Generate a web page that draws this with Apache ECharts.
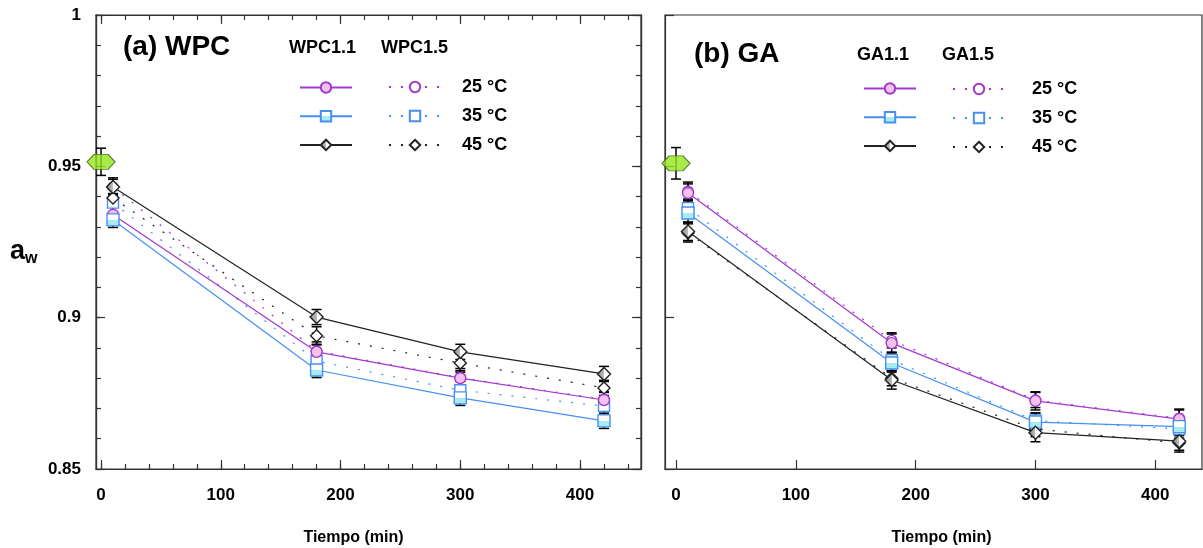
<!DOCTYPE html>
<html>
<head>
<meta charset="utf-8">
<title>aw - Tiempo</title>
<script src="https://cdn.jsdelivr.net/npm/echarts@6/dist/echarts.min.js"></script>
<style>
body{margin:0;background:#fff;}
#main{width:1203px;height:548px;}
</style>
</head>
<body>
<div id="main"></div>
<script>
// tiempos de muestreo (min)
var times = [10, 180, 300, 420];
var temps = ['25 °C', '35 °C', '45 °C'];

// (a) WPC  -  aw
var wpc11_25 = [0.9340, 0.8887, 0.8800, 0.8728];
var wpc11_35 = [0.9323, 0.8827, 0.8735, 0.8659];
var wpc11_45 = [0.9432, 0.9002, 0.8887, 0.8814];
var wpc15_25 = [0.9432, 0.8890, 0.8802, 0.8730];
var wpc15_35 = [0.9380, 0.8857, 0.8760, 0.8708];
var wpc15_45 = [0.9395, 0.8940, 0.8850, 0.8768];
var wpc11_err = [0.0025, 0.0025, 0.0025, 0.0025];
var wpc15_err = [0.0030, 0.0030, 0.0030, 0.0025];

// (b) GA
var ga11_25 = [0.9412, 0.8916, 0.8725, 0.8665];
var ga11_35 = [0.9346, 0.8850, 0.8655, 0.8640];
var ga11_45 = [0.9285, 0.8794, 0.8620, 0.8592];
var ga15_25 = [0.9418, 0.8925, 0.8728, 0.8668];
var ga15_35 = [0.9362, 0.8860, 0.8660, 0.8632];
var ga15_45 = [0.9280, 0.8800, 0.8632, 0.8586];
var ga11_err = [0.0030, 0.0030, 0.0030, 0.0030];
var ga15_err = [0.0030, 0.0025, 0.0025, 0.0030];

// muestra inicial (t = 0)
var wpc0 = 0.9515, wpc0_err = 0.0045;
var ga0 = 0.9510, ga0_err = 0.0052;

var xLabels = [0, 100, 200, 300, 400];
var xMinor = [0, 20, 40, 60, 80, 100, 120, 140, 160, 180, 200, 220, 240, 260, 280, 300, 320, 340, 360, 380, 400, 420, 440];
var yLabels = [0.85, 0.9, 0.95, 1];
var yMinor = [0.85, 0.86, 0.87, 0.88, 0.89, 0.9, 0.91, 0.92, 0.93, 0.94, 0.95, 0.96, 0.97, 0.98, 0.99, 1];

var FONT = '"Liberation Sans", Arial, sans-serif';
var PURPLE = '#a23ad0', BLUE = '#4790f2', BLACK = '#222';

var myChart = echarts.init(document.getElementById('main'));

function pts(vals) {
	return times.map(function (t, i) { return [t, vals[i]]; });
}
function errPts(vals, errs) {
	return times.map(function (t, i) { return [t, vals[i] - errs[i], vals[i] + errs[i]]; });
}
function errRender(params, api) {
	var lo = api.coord([api.value(0), api.value(1)]);
	var hi = api.coord([api.value(0), api.value(2)]);
	var w = 5;
	var st = { stroke: '#000', lineWidth: 1.5 };
	return {
		type: 'group',
		children: [
			{ type: 'line', shape: { x1: lo[0], y1: lo[1], x2: hi[0], y2: hi[1] }, style: st },
			{ type: 'line', shape: { x1: lo[0] - w, y1: lo[1], x2: lo[0] + w, y2: lo[1] }, style: st },
			{ type: 'line', shape: { x1: hi[0] - w, y1: hi[1], x2: hi[0] + w, y2: hi[1] }, style: st }
		]
	};
}

var rectFill = new echarts.graphic.LinearGradient(0, 0, 0, 1, [
	{ offset: 0, color: '#ffffff' }, { offset: 0.5, color: '#ffffff' },
	{ offset: 0.5, color: '#a6ecf2' }, { offset: 1, color: '#a6ecf2' }]);
var diamFill = new echarts.graphic.LinearGradient(0, 0, 1, 0, [
	{ offset: 0, color: '#8a8a8a' }, { offset: 0.5, color: '#bdbdbd' },
	{ offset: 0.5, color: '#ffffff' }, { offset: 1, color: '#ffffff' }]);

var styles = [
	{ color: PURPLE, symbol: 'circle', fill: '#f2c2ea', size: 11 },
	{ color: BLUE, symbol: 'rect', fill: rectFill, size: 12 },
	{ color: BLACK, symbol: 'diamond', fill: diamFill, size: 13 }
];

function lineSeries(name, vals, k, dotted, xi, yi) {
	var s = styles[k];
	return {
		name: name,
		type: 'line',
		xAxisIndex: xi, yAxisIndex: yi,
		data: pts(vals),
		symbol: s.symbol,
		symbolSize: dotted ? s.size - 1 : s.size,
		showAllSymbol: true,
		z: dotted ? 4 : 5,
		lineStyle: { color: s.color, width: 1.2, type: dotted ? [2, 10] : 'solid' },
		itemStyle: { color: dotted ? '#fff' : s.fill, borderColor: s.color, borderWidth: 1.4 },
		emphasis: { disabled: true },
		animation: false
	};
}
function errSeries(vals, errs, xi, yi) {
	return {
		type: 'custom', xAxisIndex: xi, yAxisIndex: yi, z: 3,
		renderItem: errRender, encode: { x: 0, y: [1, 2] },
		data: errPts(vals, errs), silent: true, animation: false
	};
}
function startSeries(v, e, xi, yi) {
	return [{
		type: 'custom', xAxisIndex: xi, yAxisIndex: yi, z: 3,
		renderItem: errRender, encode: { x: 0, y: [1, 2] },
		data: [[0, v - e, v + e]], silent: true, animation: false
	}, {
		type: 'scatter', xAxisIndex: xi, yAxisIndex: yi, z: 6,
		symbol: 'path://M0,5 L3.5,0 L10.5,0 L14,5 L10.5,10 L3.5,10 Z',
		symbolSize: [28, 15],
		data: [[0, v]],
		itemStyle: { color: '#95e61e', borderColor: '#3a5a10', borderWidth: 1 },
		silent: true, animation: false
	}];
}

var axisLine = { show: true, onZero: false, lineStyle: { color: '#333', width: 1.2 } };
var labelFont = { fontFamily: FONT, fontWeight: 'bold', fontSize: 17, color: '#000' };

function xAx(grid, min, max, pos, major, labels, name, namePad) {
	return {
		type: 'value', gridIndex: grid, min: min, max: max, position: pos,
		axisLine: axisLine,
		axisTick: { show: true, inside: true, length: major ? 9 : 5, customValues: major ? xLabels : xMinor, lineStyle: { color: '#333', width: 1.2 } },
		axisLabel: labels ? Object.assign({ show: true, margin: 18, customValues: xLabels }, labelFont) : { show: false },
		splitLine: { show: false },
		name: name || '', nameLocation: 'middle', nameGap: 61,
		nameTextStyle: { fontFamily: FONT, fontWeight: 'bold', fontSize: 16, color: '#000', padding: namePad || 0 }
	};
}
function yAx(grid, pos, major, labels, ticks) {
	return {
		type: 'value', gridIndex: grid, min: 0.85, max: 1, position: pos,
		axisLine: axisLine,
		axisTick: { show: true, inside: true, length: major ? 9 : 5, customValues: ticks, lineStyle: { color: '#333', width: 1.2 } },
		axisLabel: labels ? Object.assign({ show: true, margin: 15, customValues: yLabels, formatter: function (v) { return String(v); } }, labelFont) : { show: false },
		splitLine: { show: false }
	};
}

var legendText = { fontFamily: FONT, fontWeight: 'bold', fontSize: 18, color: '#000' };
function legendCol(names, left, top, textPad) {
	return {
		orient: 'vertical', left: left, top: top, padding: 0,
		itemWidth: 52, itemHeight: 13, itemGap: textPad < 0 ? 16 : 11,
		selectedMode: false,
		data: names,
		formatter: function (n) {
			if (textPad < 0) return '';
			return temps[names.indexOf(n)];
		},
		textStyle: Object.assign({ padding: [0, 0, 0, Math.max(textPad, 0)] }, legendText)
	};
}

var wN11 = ['WPC1.1 25', 'WPC1.1 35', 'WPC1.1 45'];
var wN15 = ['WPC1.5 25', 'WPC1.5 35', 'WPC1.5 45'];
var gN11 = ['GA1.1 25', 'GA1.1 35', 'GA1.1 45'];
var gN15 = ['GA1.5 25', 'GA1.5 35', 'GA1.5 45'];

var series = [];
series = series.concat(startSeries(wpc0, wpc0_err, 0, 0), startSeries(ga0, ga0_err, 4, 4));
[wpc15_25, wpc15_35, wpc15_45].forEach(function (v, k) {
	series.push(errSeries(v, wpc15_err, 0, 0));
	series.push(lineSeries(wN15[k], v, k, true, 0, 0));
});
[wpc11_25, wpc11_35, wpc11_45].forEach(function (v, k) {
	series.push(errSeries(v, wpc11_err, 0, 0));
	series.push(lineSeries(wN11[k], v, k, false, 0, 0));
});
[ga15_25, ga15_35, ga15_45].forEach(function (v, k) {
	series.push(errSeries(v, ga15_err, 4, 4));
	series.push(lineSeries(gN15[k], v, k, true, 4, 4));
});
[ga11_25, ga11_35, ga11_45].forEach(function (v, k) {
	series.push(errSeries(v, ga11_err, 4, 4));
	series.push(lineSeries(gN11[k], v, k, false, 4, 4));
});

var titleFont = { fontFamily: FONT, fontWeight: 'bold', fill: '#000' };

var option = {
	backgroundColor: '#fff',
	animation: false,
	grid: [
		{ left: 96, top: 15, width: 545, height: 454, show: true, borderColor: '#333', borderWidth: 1.2, outerBoundsMode: 'none', containLabel: false },
		{ left: 665, top: 15, width: 537, height: 454, show: true, borderColor: '#333', borderWidth: 1.2, outerBoundsMode: 'none', containLabel: false }
	],
	xAxis: [
		xAx(0, -4.2, 450.9, 'bottom', true, true, 'Tiempo (min)', [0, 30, 0, 0]),
		xAx(0, -4.2, 450.9, 'bottom', false, false),
		xAx(0, -4.2, 450.9, 'top', true, false),
		xAx(0, -4.2, 450.9, 'top', false, false),
		xAx(1, -9.2, 439, 'bottom', true, true, 'Tiempo (min)', [0, 0, 0, 16])
	],
	yAxis: [
		yAx(0, 'left', true, true, yLabels),
		yAx(0, 'left', false, false, yMinor),
		yAx(0, 'right', true, false, yLabels),
		yAx(0, 'right', false, false, yMinor),
		yAx(1, 'left', true, false, yLabels)
	],
	legend: [
		legendCol(wN11, 299, 81, -1),
		legendCol(wN15, 388, 78, 16),
		legendCol(gN11, 863, 82, -1),
		legendCol(gN15, 952, 80, 22)
	],
	graphic: [
		{ type: 'text', left: 123, top: 33, style: Object.assign({ text: '(a) WPC', fontSize: 28 }, titleFont) },
		{ type: 'text', left: 694, top: 40, style: Object.assign({ text: '(b) GA', fontSize: 28 }, titleFont) },
		{ type: 'text', left: 289, top: 39, style: Object.assign({ text: 'WPC1.1', fontSize: 18 }, titleFont) },
		{ type: 'text', left: 381, top: 39, style: Object.assign({ text: 'WPC1.5', fontSize: 18 }, titleFont) },
		{ type: 'text', left: 857, top: 46, style: Object.assign({ text: 'GA1.1', fontSize: 18 }, titleFont) },
		{ type: 'text', left: 942, top: 46, style: Object.assign({ text: 'GA1.5', fontSize: 18 }, titleFont) },
		{ type: 'text', left: 10, top: 238, style: {
			text: '{a|a}{w|w}',
			rich: {
				a: { fontFamily: FONT, fontWeight: 'bold', fontSize: 27, fill: '#000' },
				w: { fontFamily: FONT, fontWeight: 'bold', fontSize: 16, fill: '#000', padding: [15, 0, 0, 0] }
			}
		} }
	],
	series: series
};
myChart.setOption(option);
</script>
</body>
</html>
